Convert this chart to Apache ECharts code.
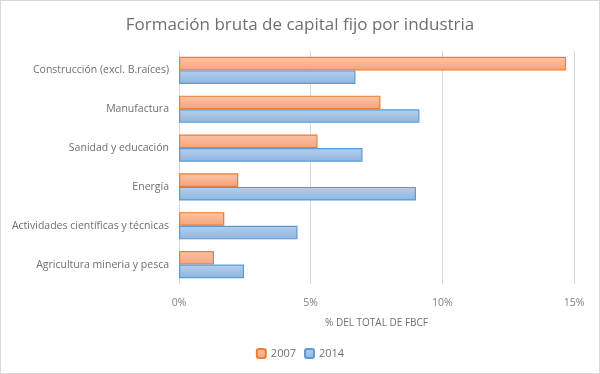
<!DOCTYPE html>
<html><head><meta charset="utf-8">
<script src="https://cdn.jsdelivr.net/npm/echarts@6/dist/echarts.min.js"></script>
<style>html,body{margin:0;padding:0;background:#fff}#c{width:600px;height:374px;box-sizing:border-box;border:1px solid #d9d9d9}</style>
</head><body><div id="c"></div>
<script>
const categories = ["Agricultura mineria y pesca","Actividades científicas y técnicas","Energía","Sanidad y educación","Manufactura","Construcción (excl. B.raíces)"];
const series2007 = [1.33, 1.72, 2.25, 5.26, 7.65, 14.7];
const series2014 = [2.47, 4.5, 9.0, 6.97, 9.13, 6.7];
const xTicks = {min: 0, max: 15, interval: 5};
const font = "'Open Sans', 'Liberation Sans', sans-serif";
const chart = echarts.init(document.getElementById('c'));
const grad = (a, b) => new echarts.graphic.LinearGradient(0, 0, 0, 1, [{offset: 0, color: a}, {offset: 1, color: b}]);
chart.setOption({
  animation: false,
  textStyle: {fontFamily: font},
  title: {text: "Formación bruta de capital fijo por industria", left: 'center', top: 11,
    textStyle: {fontFamily: font, fontSize: 17, fontWeight: 'normal', color: '#6f6f6f'}},
  legend: {bottom: 9, left: 'center', itemWidth: 9, itemHeight: 9, itemGap: 8,
    textStyle: {fontFamily: font, fontSize: 11, color: '#6f6f6f'},
    data: ['2007', '2014']},
  grid: {left: 178, right: 25, top: 50, bottom: 89},
  xAxis: {type: 'value', min: xTicks.min, max: xTicks.max, interval: xTicks.interval,
    name: '% DEL TOTAL DE FBCF', nameLocation: 'middle', nameGap: 34,
    nameTextStyle: {fontFamily: font, fontSize: 10, color: '#6f6f6f'},
    axisLabel: {formatter: v => v + '%', color: '#7f7f7f', fontSize: 10.5, margin: 14},
    axisLine: {show: false}, axisTick: {show: false},
    splitLine: {lineStyle: {color: '#d9d9d9'}}},
  yAxis: {type: 'category', data: categories,
    axisLabel: {color: '#6f6f6f', fontSize: 10.5, margin: 10},
    axisLine: {show: true, lineStyle: {color: '#d9d9d9'}}, axisTick: {show: false}},
  series: [
    {name: '2007', type: 'bar', data: series2007, barGap: '0%', barCategoryGap: '30%',
      itemStyle: {color: grad('#fbc4a8', '#f4a47a'), borderColor: '#ed7d31', borderWidth: 1.2}},
    {name: '2014', type: 'bar', data: series2014,
      itemStyle: {color: grad('#b4cfee', '#8fb5e0'), borderColor: '#5b9bd5', borderWidth: 1.2}}
  ]
});
</script></body></html>
